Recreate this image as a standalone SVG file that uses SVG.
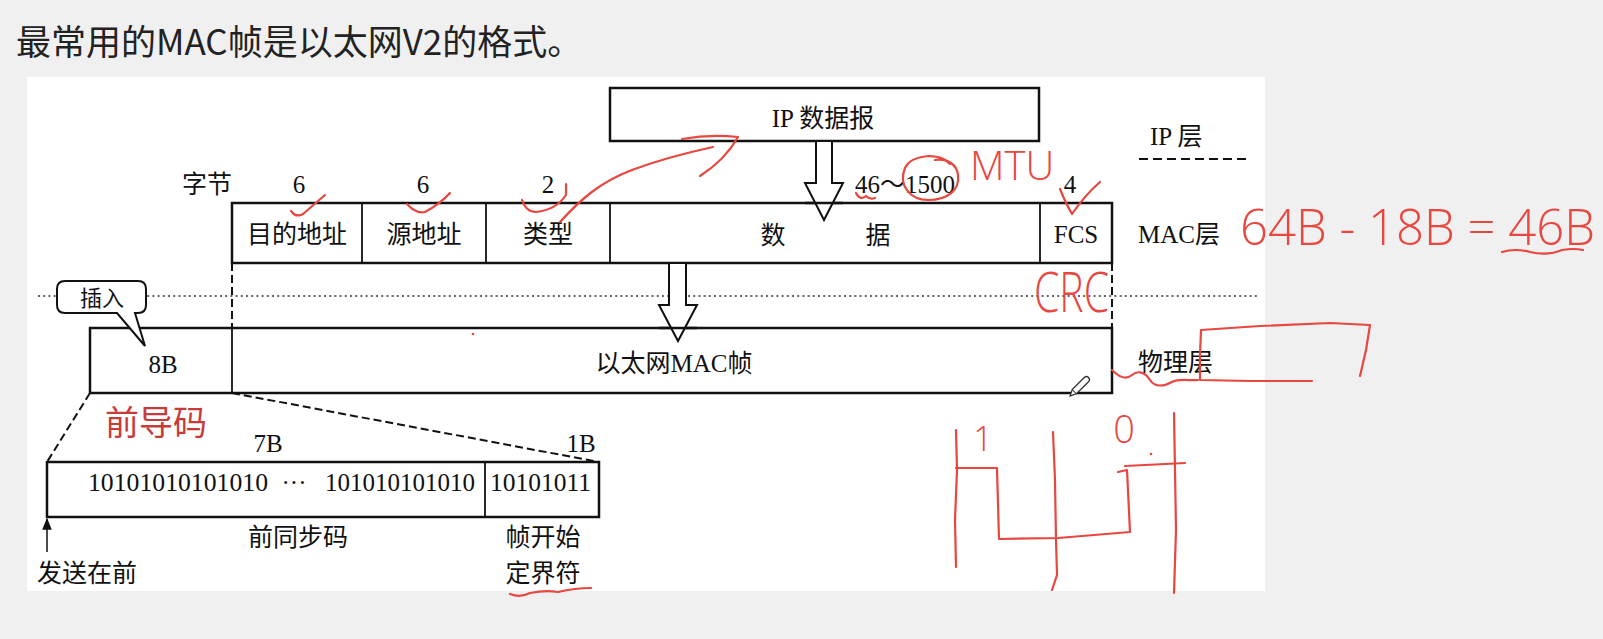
<svg xmlns="http://www.w3.org/2000/svg" width="1603" height="639" viewBox="0 0 1603 639">
<defs>
<style>
.t{font-family:"Liberation Serif","Noto Sans CJK SC",serif;font-size:25px;fill:#111}
.c{text-anchor:middle}
.box{fill:#fff;stroke:#111;stroke-width:2.5}
.dv{stroke:#111;stroke-width:1.8}
.dash{fill:none;stroke:#111;stroke-width:2;stroke-dasharray:8 4}
.ink{fill:none;stroke:#e8463e;stroke-width:2.2;stroke-linecap:round;stroke-linejoin:round}
.hw{font-family:"Open Sans","Liberation Sans",sans-serif;font-weight:300;fill:#e8463e}
</style>
<marker id="ah" viewBox="0 0 10 10" refX="9" refY="5" markerWidth="8" markerHeight="8" orient="auto">
<path d="M0,1 L10,5 L0,9 Z" fill="#111"/>
</marker>
</defs>
<rect x="0" y="0" width="1603" height="639" fill="#f0f0f0"/>
<text id="title" x="16" y="55" style="font-family:'Noto Sans CJK SC',sans-serif;font-size:35px;fill:#222">最常用的MAC帧是以太网V2的格式。</text>
<rect x="27" y="77" width="1238" height="514" fill="#fff"/>

<g id="connectors">
<line x1="38" y1="296" x2="1260" y2="296" stroke="#333" stroke-width="1.6" stroke-dasharray="2 3.2"/>
<line x1="1139" y1="159" x2="1251" y2="159" stroke="#111" stroke-width="2" stroke-dasharray="9 5"/>
<line x1="232" y1="263" x2="232" y2="328" class="dash"/>
<line x1="1112" y1="263" x2="1112" y2="328" class="dash"/>
<line x1="90" y1="393" x2="47" y2="462" class="dash"/>
<line x1="232" y1="393" x2="599" y2="462" class="dash"/>
<line x1="47" y1="552" x2="47" y2="519" stroke="#111" stroke-width="1.5" marker-end="url(#ah)"/>
</g>

<g id="ip-datagram">
<rect x="610" y="88" width="429" height="53" class="box"/>
<text x="823" y="127" class="t c">IP 数据报</text>
</g>

<g id="mac-frame">
<rect x="232" y="203" width="880" height="60" class="box"/>
<line x1="362" y1="203" x2="362" y2="263" class="dv"/>
<line x1="486" y1="203" x2="486" y2="263" class="dv"/>
<line x1="610" y1="203" x2="610" y2="263" class="dv"/>
<line x1="1040" y1="203" x2="1040" y2="263" class="dv"/>
<text x="297" y="243" class="t c">目的地址</text>
<text x="424" y="243" class="t c">源地址</text>
<text x="548" y="243" class="t c">类型</text>
<text x="773" y="244" class="t c">数</text>
<text x="878" y="244" class="t c">据</text>
<text x="1076" y="243" class="t c">FCS</text>
</g>

<g id="byte-counts">
<text x="182" y="193" class="t">字节</text>
<text x="299" y="193" class="t c">6</text>
<text x="423" y="193" class="t c">6</text>
<text x="548" y="193" class="t c">2</text>
<text x="905" y="193" class="t c">46～1500</text>
<text x="1070" y="193" class="t c">4</text>
</g>

<g id="phys-frame">
<rect x="90" y="328" width="1022" height="65" class="box"/>
<line x1="232" y1="328" x2="232" y2="393" class="dv"/>
<text x="163" y="373" class="t c">8B</text>
<text x="674" y="372" class="t c">以太网MAC帧</text>
</g>

<g id="arrow-ip-mac">
<path d="M816,141 H832 V183 H843 L824,220 L805,183 H816 Z" fill="#fff" stroke="#111" stroke-width="2"/>
</g>
<g id="arrow-mac-phys">
<path d="M669,263 H686 V305 H697 L678,341 L659,305 H669 Z" fill="#fff" stroke="#111" stroke-width="2"/>
</g>
<line x1="805" y1="203" x2="843" y2="203" stroke="#111" stroke-width="2.5"/>
<line x1="659" y1="328" x2="697" y2="328" stroke="#111" stroke-width="2.5"/>

<g id="callout-insert">
<path d="M65,281 H138 Q146,281 146,289 V305 Q146,313 138,313 H135 L145,346 L117,313 H65 Q57,313 57,305 V289 Q57,281 65,281 Z" fill="#fff" stroke="#111" stroke-width="2"/>
<text x="102" y="306" style="font-family:'Noto Sans CJK SC',sans-serif;font-size:22px;fill:#111;text-anchor:middle">插入</text>
</g>

<g id="layer-labels">
<text x="1150" y="145" class="t">IP 层</text>
<text x="1138" y="243" class="t">MAC层</text>
<text x="1138" y="371" class="t">物理层</text>
</g>

<g id="preamble">
<text x="105" y="435" style="font-family:'Noto Sans CJK SC',sans-serif;font-size:34px;fill:#c93a3a">前导码</text>
<text x="268" y="452" class="t c">7B</text>
<text x="581" y="452" class="t c">1B</text>
<rect x="47" y="462" width="552" height="55" class="box"/>
<line x1="485" y1="462" x2="485" y2="517" class="dv"/>
<text x="88" y="491" class="t" textLength="180" lengthAdjust="spacingAndGlyphs">10101010101010</text>
<text x="294" y="491" class="t c">···</text>
<text x="325" y="491" class="t" textLength="150" lengthAdjust="spacingAndGlyphs">101010101010</text>
<text x="490" y="491" class="t" textLength="101" lengthAdjust="spacingAndGlyphs">10101011</text>
<text x="298" y="546" class="t c">前同步码</text>
<text x="543" y="546" class="t c">帧开始</text>
<text x="543" y="582" class="t c">定界符</text>
<text x="37" y="582" class="t">发送在前</text>
</g>

<g id="pencil" transform="rotate(-45 1080 386)">
<path d="M1072,383 H1089 Q1092,383 1092,386 Q1092,389 1089,389 H1072 L1066,386 Z" fill="#fff" stroke="#333" stroke-width="1.3"/>
<line x1="1072" y1="383" x2="1072" y2="389" stroke="#333" stroke-width="1"/>
</g>

<g id="annotations">
<path class="ink" d="M291,211 Q296,218 303,214 L325,195"/>
<path class="ink" d="M407,204 Q416,214 425,212 Q440,204 450,193"/>
<path class="ink" d="M522,200 Q526,212 536,212 Q556,210 566,195 L566,184"/>
<path class="ink" d="M560,222 C580,200 600,182 632,170 S690,152 713,147"/>
<path class="ink" d="M682,139 Q710,134 738,137 Q725,160 700,176"/>
<path class="ink" d="M950,164 C940,152 912,154 905,168 C898,185 910,200 928,200 C948,200 960,190 958,175 C957,165 948,158 935,160"/>
<path class="ink" d="M856,193 Q860,201 866,196 Q870,200 875,198"/>
<text x="970" y="180" class="hw" font-size="40">MTU</text>
<path class="ink" d="M1060,189 Q1066,204 1072,214 Q1085,195 1100,182"/>
<text x="1034" y="312" class="hw" font-size="56" textLength="75" lengthAdjust="spacingAndGlyphs">CRC</text>
<text x="1240" y="245" class="hw" font-size="50" textLength="355" lengthAdjust="spacingAndGlyphs">64B - 18B = 46B</text>
<path class="ink" d="M1502,252 Q1515,248 1530,252 Q1548,256 1562,250 Q1574,248 1583,250"/>
<circle cx="473" cy="334" r="1.3" fill="#e8463e"/>
<path class="ink" d="M1112,370 C1120,378 1126,380 1132,375 S1145,372 1150,380 S1165,386 1172,382 S1190,381 1198,380"/>
<path class="ink" d="M1312,381 L1250,381 L1200,380 L1200,355 L1201,330 L1260,326 L1330,323 L1370,325 L1366,350 L1360,376"/>
<path class="ink" d="M956,430 L957,470 L955,520 L956,567"/>
<path class="ink" d="M1053,432 L1055,480 L1056,540 L1057,575 L1052,590"/>
<path class="ink" d="M1174,413 L1175,470 L1176,530 L1174,593"/>
<path class="ink" d="M956,468 L997,468 L999,539 L1058,538 L1130,532 L1127,470 L1118,472 M1125,466 L1185,463"/>
<text x="983" y="451" class="hw" font-size="34" text-anchor="middle">1</text>
<text x="1124" y="443" class="hw" font-size="38" text-anchor="middle">0</text>
<circle cx="1151" cy="454" r="1.3" fill="#e8463e"/>
<path class="ink" d="M510,594 Q520,598 530,593 Q545,590 558,592 Q575,588 591,588"/>
</g>
</svg>
